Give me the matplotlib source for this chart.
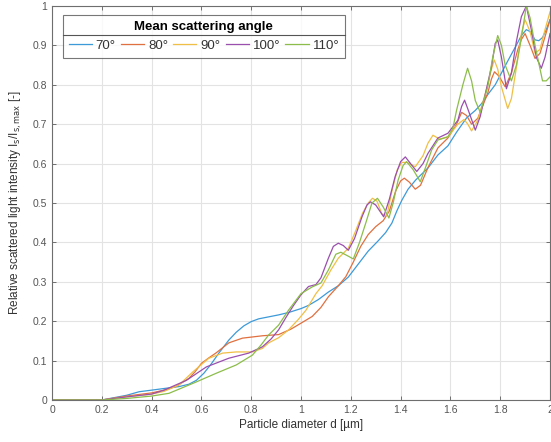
import matplotlib
matplotlib.use("Agg")
import matplotlib.pyplot as plt
from matplotlib.lines import Line2D

plt.rcParams['font.family'] = ['Liberation Sans', 'DejaVu Sans']

# ---- data ----
labels = ["70°", "80°", "90°", "100°", "110°"]
colors = ["#3d9ad8", "#e0703f", "#f0bf45", "#9a4fae", "#8cbd4a"]

d70 = [0, 0.2, 0.3, 0.35, 0.4, 0.46, 0.51, 0.55, 0.58, 0.61, 0.64, 0.67, 0.71, 0.74, 0.77, 0.80, 0.83, 0.87,
       0.91, 0.95, 1.0, 1.03, 1.07, 1.11, 1.15, 1.19, 1.23, 1.27, 1.31, 1.34, 1.365, 1.385, 1.405, 1.43, 1.46,
       1.51, 1.55, 1.59, 1.625, 1.665, 1.70, 1.725, 1.75, 1.78, 1.83, 1.86, 1.885, 1.905, 1.92, 1.94, 1.955,
       1.97, 1.985, 2.0]
y70 = [0, 0, 0.012, 0.021, 0.025, 0.03, 0.034, 0.04, 0.05, 0.068, 0.092, 0.119, 0.152, 0.172, 0.188, 0.199,
       0.206, 0.211, 0.216, 0.222, 0.232, 0.24, 0.255, 0.274, 0.29, 0.312, 0.345, 0.378, 0.404, 0.425, 0.449,
       0.48, 0.507, 0.535, 0.558, 0.589, 0.622, 0.645, 0.68, 0.716, 0.735, 0.752, 0.775, 0.80, 0.86, 0.895,
       0.925, 0.94, 0.935, 0.914, 0.912, 0.92, 0.94, 0.965]

d80 = [0, 0.2, 0.3, 0.4, 0.45, 0.5, 0.55, 0.575, 0.60, 0.63, 0.66, 0.71, 0.765, 0.845, 0.91, 0.96, 1.0, 1.045,
       1.08, 1.11, 1.15, 1.18, 1.21, 1.24, 1.27, 1.30, 1.33, 1.355, 1.38, 1.40, 1.415, 1.435, 1.459, 1.48, 1.51,
       1.55, 1.59, 1.625, 1.645, 1.665, 1.685, 1.71, 1.75, 1.765, 1.777, 1.795, 1.82, 1.845, 1.87, 1.885, 1.90,
       1.92, 1.94, 1.96, 1.98, 2.0]
y80 = [0, 0, 0.01, 0.018, 0.025, 0.035, 0.055, 0.072, 0.093, 0.107, 0.12, 0.145, 0.157, 0.163, 0.166, 0.18,
       0.195, 0.212, 0.235, 0.262, 0.29, 0.313, 0.35, 0.39, 0.42, 0.44, 0.455, 0.48, 0.53, 0.556, 0.563, 0.553,
       0.535, 0.545, 0.59, 0.64, 0.665, 0.70, 0.73, 0.722, 0.70, 0.715, 0.779, 0.815, 0.833, 0.822, 0.795, 0.83,
       0.888, 0.915, 0.93, 0.90, 0.867, 0.88, 0.922, 0.965]

d90 = [0, 0.2, 0.3, 0.4, 0.45, 0.51, 0.565, 0.60, 0.63, 0.685, 0.74, 0.805, 0.845, 0.87, 0.91, 0.95, 0.99, 1.02,
       1.06, 1.085, 1.12, 1.15, 1.19, 1.22, 1.247, 1.27, 1.287, 1.305, 1.325, 1.345, 1.365, 1.387, 1.405, 1.425,
       1.459, 1.49, 1.51, 1.53, 1.557, 1.59, 1.63, 1.655, 1.67, 1.685, 1.71, 1.75, 1.765, 1.776, 1.79, 1.805,
       1.83, 1.845, 1.87, 1.885, 1.90, 1.92, 1.94, 1.96, 1.98, 2.0]
y90 = [0, 0, 0.008, 0.015, 0.022, 0.038, 0.071, 0.09, 0.106, 0.119, 0.122, 0.122, 0.131, 0.145, 0.158, 0.178,
       0.205, 0.228, 0.27, 0.29, 0.33, 0.36, 0.385, 0.43, 0.474, 0.50, 0.512, 0.505, 0.472, 0.468, 0.53, 0.585,
       0.603, 0.603, 0.592, 0.62, 0.652, 0.672, 0.662, 0.668, 0.70, 0.712, 0.70, 0.683, 0.71, 0.80, 0.84, 0.863,
       0.84, 0.795, 0.74, 0.765, 0.863, 0.93, 0.965, 0.935, 0.88, 0.89, 0.94, 0.985]

d100 = [0, 0.2, 0.3, 0.4, 0.45, 0.54, 0.62, 0.71, 0.79, 0.845, 0.88, 0.91, 0.94, 0.97, 1.0, 1.03, 1.06, 1.08,
        1.11, 1.13, 1.15, 1.17, 1.19, 1.215, 1.245, 1.265, 1.279, 1.30, 1.332, 1.355, 1.378, 1.40, 1.419, 1.44,
        1.465, 1.49, 1.51, 1.55, 1.59, 1.63, 1.645, 1.657, 1.675, 1.70, 1.72, 1.745, 1.765, 1.78, 1.79, 1.805,
        1.825, 1.845, 1.865, 1.885, 1.905, 1.925, 1.945, 1.965, 1.98, 2.0]
y100 = [0, 0, 0.008, 0.015, 0.025, 0.05, 0.084, 0.106, 0.119, 0.135, 0.155, 0.178, 0.21, 0.24, 0.267, 0.288,
        0.293, 0.31, 0.36, 0.39, 0.398, 0.392, 0.38, 0.41, 0.465, 0.495, 0.503, 0.495, 0.465, 0.51, 0.567, 0.605,
        0.617, 0.60, 0.58, 0.60, 0.626, 0.665, 0.677, 0.71, 0.745, 0.761, 0.73, 0.685, 0.72, 0.79, 0.846, 0.905,
        0.914, 0.87, 0.79, 0.83, 0.91, 0.973, 1.0, 0.94, 0.87, 0.842, 0.87, 0.93]

d110 = [0, 0.2, 0.3, 0.4, 0.47, 0.58, 0.66, 0.74, 0.805, 0.84, 0.87, 0.91, 0.95, 1.0, 1.045, 1.08, 1.11, 1.14,
        1.16, 1.19, 1.21, 1.235, 1.26, 1.285, 1.307, 1.33, 1.353, 1.37, 1.39, 1.41, 1.424, 1.45, 1.479, 1.50,
        1.525, 1.55, 1.59, 1.61, 1.625, 1.65, 1.669, 1.685, 1.70, 1.72, 1.75, 1.77, 1.79, 1.805, 1.82, 1.845,
        1.865, 1.88, 1.905, 1.92, 1.94, 1.97, 1.985, 2.0]
y110 = [0, 0, 0.004, 0.01, 0.017, 0.046, 0.068, 0.089, 0.114, 0.14, 0.165, 0.19, 0.228, 0.27, 0.287, 0.297,
        0.33, 0.37, 0.375, 0.365, 0.358, 0.40, 0.449, 0.50, 0.512, 0.49, 0.462, 0.50, 0.558, 0.595, 0.605, 0.585,
        0.554, 0.59, 0.635, 0.66, 0.668, 0.69, 0.736, 0.80, 0.842, 0.81, 0.76, 0.73, 0.795, 0.87, 0.925, 0.90,
        0.85, 0.81, 0.85, 0.90, 1.0, 0.97, 0.90, 0.81, 0.81, 0.82]

series_d = [d70, d80, d90, d100, d110]
series_y = [y70, y80, y90, y100, y110]

xticks = [0, 0.2, 0.4, 0.6, 0.8, 1.0, 1.2, 1.4, 1.6, 1.8, 2.0]
xticklabels = ["0", "0.2", "0.4", "0.6", "0.8", "1", "1.2", "1.4", "1.6", "1.8", "2"]
yticks = [0, 0.1, 0.2, 0.3, 0.4, 0.5, 0.6, 0.7, 0.8, 0.9, 1.0]
yticklabels = ["0", "0.1", "0.2", "0.3", "0.4", "0.5", "0.6", "0.7", "0.8", "0.9", "1"]

# ---- figure ----
fig = plt.figure(figsize=(5.51, 4.42), dpi=100)
ax = fig.add_axes([52/551, 42/442, 498/551, 394/442])

for dd, yy, c, lab in zip(series_d, series_y, colors, labels):
    ax.plot(dd, yy, color=c, lw=0.9, label=lab, solid_joinstyle="round")

ax.set_xlim(0, 2)
ax.set_ylim(0, 1)
ax.set_xticks(xticks)
ax.set_xticklabels(xticklabels)
ax.set_yticks(yticks)
ax.set_yticklabels(yticklabels)
ax.grid(True, color="#e3e3e3", lw=0.8)
ax.set_axisbelow(True)
axc = "#6e6e6e"
for s in ax.spines.values():
    s.set_color(axc)
    s.set_linewidth(0.8)
ax.tick_params(direction="in", length=3, width=0.7, colors=axc, labelcolor="#555555",
               labelsize=7.5, top=True, right=True)
ax.set_xlabel("Particle diameter d [µm]", fontsize=8.5, color="#333333", labelpad=3)
ax.set_ylabel("Relative scattered light intensity I$_\\mathrm{s}$/I$_\\mathrm{s,max}$ [-]",
              fontsize=8.5, color="#333333", labelpad=6)

leg = ax.legend(loc="upper left", bbox_to_anchor=(0.0215, 0.977), ncol=5, frameon=True,
                fontsize=9.5, title="Mean scattering angle", handlelength=1.75, handletextpad=0.3,
                columnspacing=0.4, borderpad=0.45, borderaxespad=0, fancybox=False)
leg.get_title().set_fontweight("bold")
leg.get_title().set_fontsize(9.5)
leg.get_frame().set_edgecolor("#555555")
leg.get_frame().set_linewidth(0.8)
for t in leg.get_texts():
    t.set_color("#333333")

fig.canvas.draw()
bb = leg.get_window_extent()
tb = leg.get_title().get_window_extent()
inv = ax.transAxes.inverted()
x0, _ = inv.transform((bb.x0, 0))
x1, _ = inv.transform((bb.x1, 0))
_, ysep = inv.transform((0, tb.y0 - 2))
ax.add_line(Line2D([x0, x1], [ysep, ysep], transform=ax.transAxes, color="#555555", lw=0.8, zorder=10))

fig.savefig("out.png", dpi=100)
